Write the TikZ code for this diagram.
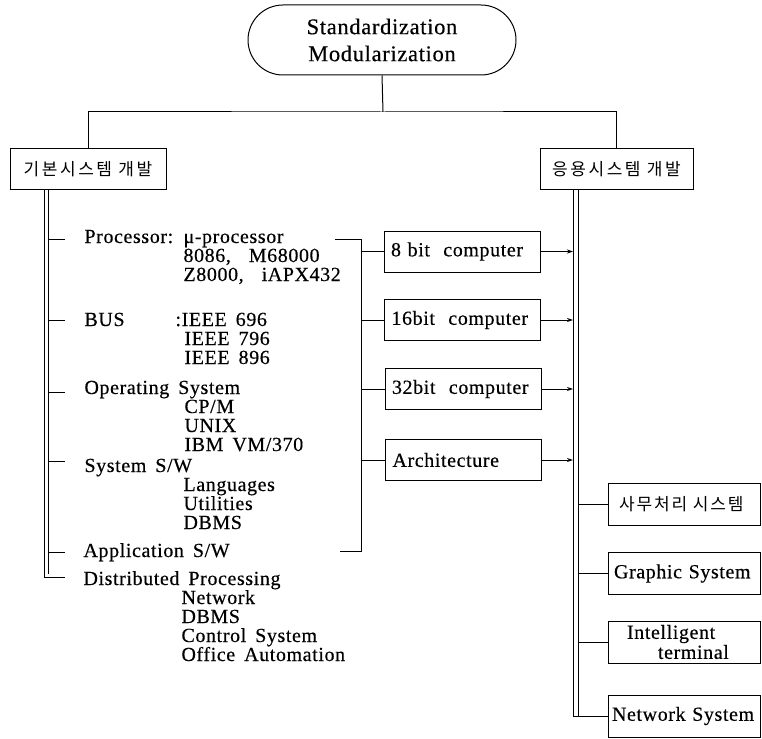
\documentclass[tikz,border=0pt]{standalone}
\usepackage{fontspec}
\setmainfont{Liberation Serif}[LetterSpace=3,WordSpace=1.6,FakeBold=0.4]
\newfontfamily\kor{Noto Sans CJK KR}[LetterSpace=15]
\newfontfamily\korb{Noto Sans CJK KR}[LetterSpace=11]
\usetikzlibrary{arrows.meta}
\begin{document}
\begin{tikzpicture}[x=1pt,y=-1pt,line width=1pt,
  txt/.style={inner sep=0pt,anchor=base west,font=\fontsize{20}{20}\selectfont},
  box/.style={draw,inner xsep=7pt,inner ysep=0pt,minimum height=41pt,text width=142pt,align=left,font=\fontsize{20}{20}\selectfont},
  rbx/.style={draw,inner xsep=6pt,inner ysep=0pt,minimum height=42pt,text width=140pt,align=left,font=\fontsize{20}{20}\selectfont},
  kbox/.style={draw,inner sep=0pt,minimum height=41pt,font=\kor\fontsize{17}{17}\selectfont},
  arr/.style={-{Stealth[length=6pt,width=4pt]}}]
\useasboundingbox (0,0) rectangle (762,738);

% top
\node[draw,rounded corners=35pt,minimum width=268pt,minimum height=70pt,align=center,inner sep=0pt,
      font=\fontsize{22.5}{27}\selectfont] (top) at (382,40) {Standardization\\Modularization};
\node[kbox,minimum width=156pt] (lbox) at (88,169) {기본시스템 개발};
\node[kbox,minimum width=153pt] (rbox) at (616.5,169) {응용시스템 개발};
\coordinate (j) at (383,112);
\draw (top.south) -- (j);
\draw (lbox.north) |- (j) -| (rbox.north);

% left double line
\coordinate (lo1) at (44,189.5);
\coordinate (lo2) at (44,577);
\coordinate (lo3) at (65,577);
\coordinate (li1) at (48.5,189.5);
\coordinate (li2) at (48.5,574);
\draw (lo1) -- (lo2) -- (lo3);
\draw (li1) -- (li2);
\foreach \yy/\nm in {239/t1,320/t2,392/t3,461/t4,552/t5}{
  \coordinate (\nm a) at (48.5,\yy);
  \coordinate (\nm b) at (65,\yy);
  \draw (\nm a) -- (\nm b);
}

% left texts
\node[txt] (proc) at (84,243) {Processor:};
\node[txt] (proc1) at (183,243) {μ-processor};
\node[txt] (proc2) at (183,262) {8086,\ \ M68000};
\node[txt] (proc3) at (183,281) {Z8000,\ \ iAPX432};
\node[txt] (bus) at (84,326) {BUS};
\node[txt] (bus1) at (175,326) {:IEEE 696};
\node[txt] (bus2) at (184,345) {IEEE 796};
\node[txt] (bus3) at (184,364) {IEEE 896};
\node[txt] (os) at (84,394) {Operating System};
\node[txt] (os1) at (184,413) {CP/M};
\node[txt] (os2) at (184,432) {UNIX};
\node[txt] (os3) at (184,451) {IBM VM/370};
\node[txt] (sw) at (84,472) {System S/W};
\node[txt] (sw1) at (183,491) {Languages};
\node[txt] (sw2) at (183,510) {Utilities};
\node[txt] (sw3) at (183,529) {DBMS};
\node[txt] (app) at (83,557) {Application S/W};
\node[txt] (dp) at (83,585) {Distributed Processing};
\node[txt] (dp1) at (181,604) {Network};
\node[txt] (dp2) at (181,623) {DBMS};
\node[txt] (dp3) at (181,642) {Control System};
\node[txt] (dp4) at (181,661) {Office Automation};

% middle boxes
\node[box] (c8) at (462,251.5) {8 bit\ \ computer};
\node[box] (c16) at (462.5,320) {16bit\ \ computer};
\node[box] (c32) at (463,389) {32bit\ \ computer};
\node[box] (arch) at (463.5,460) {Architecture};

\coordinate (b1) at (335,239);
\coordinate (b2) at (361,239);
\coordinate (b3) at (361,551);
\coordinate (b4) at (340,551);
\draw (b1) -- (b2) -- (b3) -- (b4);
\foreach \n in {c8,c16,c32,arch}{
  \draw (b2 |- \n.west) -- (\n.west);
}

% right double line
\coordinate (ro1) at (573,189.5);
\coordinate (ri1) at (578,189.5);
\foreach \n in {c8,c16,c32,arch}{
  \draw[arr] (\n.east) -- (\n.east -| ro1);
}

\node[rbx,font=\korb\fontsize{17}{17}\selectfont,inner xsep=11pt,text width=130pt] (sb) at (684,504) {사무처리 시스템};
\node[rbx] (gs) at (684,573.5) {Graphic System};
\node[rbx] (it) at (684,642) {\hspace*{13pt}Intelligent\\\hspace*{44pt}terminal};
\node[rbx,inner xsep=4pt,text width=144pt] (ns) at (684,716) {Network System};

\draw (ro1) -- (ro1 |- ns.west) -- (ns.west);
\draw (ri1) -- (ri1 |- ns.west);
\foreach \n in {sb,gs,it}{
  \draw (ri1 |- \n.west) -- (\n.west);
}
\end{tikzpicture}
\end{document}
